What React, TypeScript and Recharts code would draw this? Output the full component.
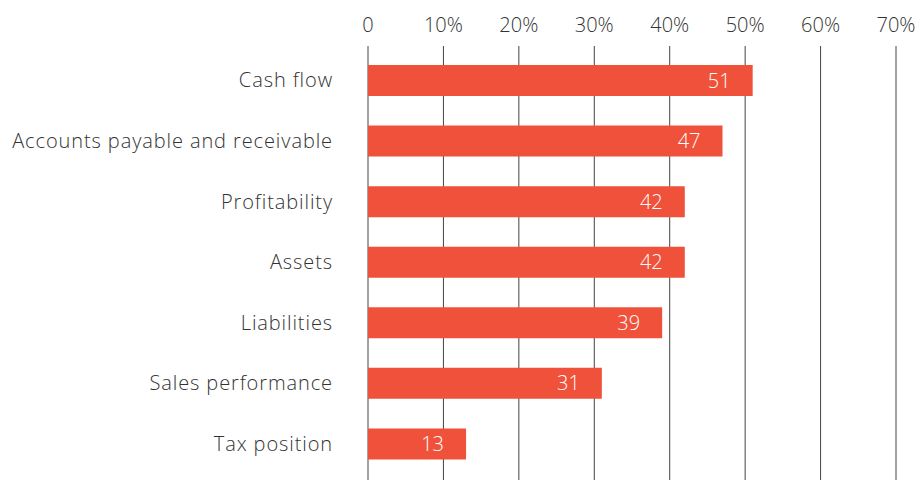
import { BarChart, Bar, XAxis, YAxis, CartesianGrid, LabelList } from "recharts";

const categories = [
  "Cash flow",
  "Accounts payable and receivable",
  "Profitability",
  "Assets",
  "Liabilities",
  "Sales performance",
  "Tax position",
];
const values = [51, 47, 42, 42, 39, 31, 13];
const xTicks = [0, 10, 20, 30, 40, 50, 60, 70];

const data = categories.map((name, i) => ({ name, value: values[i] }));

const FONT = "'Open Sans', Lato, sans-serif";
const TEXT = "#333333";
const BAR = "#F0513A";

export default function App() {
  return (
    <div style={{ position: "absolute", left: 0, top: 0, background: "#fff" }}>
      <BarChart
        width={917}
        height={480}
        data={data}
        layout="vertical"
        margin={{ top: 0, right: 21, bottom: 0, left: 0 }}
        barSize={31}
      >
        <CartesianGrid horizontal={false} stroke="#444" strokeWidth={1} verticalValues={xTicks} />
        <XAxis
          type="number"
          orientation="top"
          domain={[0, 70]}
          ticks={xTicks}
          height={46}
          axisLine={false}
          tickLine={false}
          tickSize={0}
          tickMargin={14}
          tickFormatter={(v: number) => (v === 0 ? "0" : `${v}%`)}
          tick={{ fill: TEXT, fontSize: 20, fontFamily: FONT, fontWeight: 300 }}
        />
        <YAxis
          type="category"
          dataKey="name"
          width={368}
          axisLine={false}
          tickLine={false}
          tickSize={0}
          tickMargin={35}
          interval={0}
          padding={{ top: 4, bottom: 6 }}
          tick={{ fill: TEXT, fontSize: 20, fontFamily: FONT, fontWeight: 300, letterSpacing: 0.9 }}
        />
        <Bar dataKey="value" fill={BAR} isAnimationActive={false}>
          <LabelList
            dataKey="value"
            position="insideRight"
            offset={22}
            fill="#ffffff"
            style={{ fontSize: 20, fontFamily: FONT, fontWeight: 300 }}
          />
        </Bar>
      </BarChart>
    </div>
  );
}
